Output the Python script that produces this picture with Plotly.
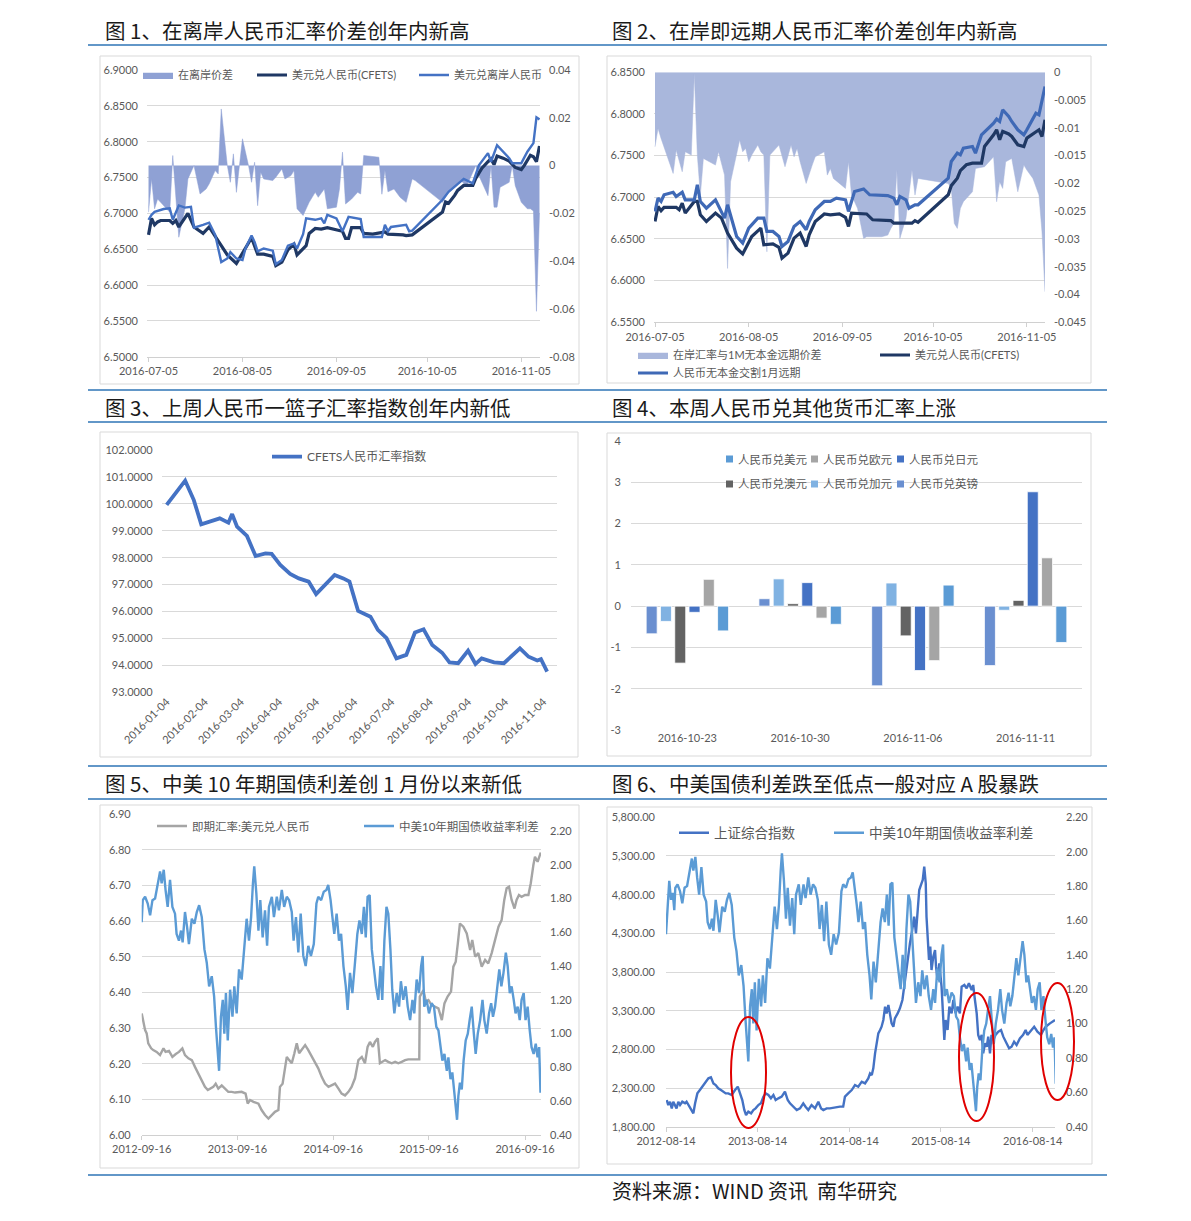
import pandas as pd
import plotly.graph_objects as go

# ---------------------------------------------------------------- data
BASE_SHORT = "2016-07-05"   # day 0 of figures 1 and 2
BASE_SPREAD = "2012-09-16"  # day 0 of the 10y spread and of USD/CNY spot
BASE_SSE = "2012-08-14"     # day 0 of the Shanghai composite

# figure 1 : (day, value)
C1_SPREAD = [(0,-0.0195),(1,-0.0056),(2,-0.0181),(3,-0.0140),(4,-0.0154),(6,-0.0181),(7,-0.0195),(8,0.0042),
             (9,-0.0140),(10,-0.0300),(12,-0.0181),(13,-0.0056),(14,-0.0028),(15,0.0),(17,-0.0119),(19,-0.0098),
             (20,-0.0077),(22,-0.0021),(23,-0.0035),(24,0.0237),(26,0.0),(27,-0.0070),(28,0.0049),(29,-0.0112),
             (30,0.0),(31,0.0112),(33,0.0),(34,-0.0070),(35,0.0014),(36,-0.0168),(37,-0.0028),(38,-0.0056),
             (41,-0.0063),(42,-0.0049),(44,-0.0014),(45,-0.0056),(47,-0.0042),(48,-0.0021),(49,-0.0181),
             (51,-0.0209),(53,-0.0154),(55,-0.0112),(56,-0.0133),(58,-0.0098),(59,-0.0181),(62,-0.0174),
             (63,-0.0098),(64,0.0056),(65,-0.0161),(67,-0.0140),(69,-0.0112),(70,-0.0119),(71,0.0042),
             (76,0.0035),(77,-0.0120),(78,-0.0020),(79,-0.0110),(81,-0.0098),(83,-0.0133),(85,-0.0154),
             (87,-0.0056),(88,-0.0063),(97,-0.0154),(99,-0.0112),(101,-0.0091),(103,-0.0063),(105,-0.0084),
             (107,-0.0028),(108,0.0),(109,-0.0042),(112,-0.0126),(113,0.0),(114,-0.0174),(115,-0.0174),
             (116,-0.0091),(119,-0.0070),(120,0.0),(121,-0.0084),(123,-0.0154),(125,-0.0181),(126,-0.0181),
             (127,-0.0190),(128,-0.0610),(129,-0.0200)]
C1_CFETS = [(0,6.670),(1,6.693),(2,6.684),(3,6.688),(4,6.690),(7,6.690),(8,6.686),(9,6.690),(10,6.681),
            (12,6.693),(13,6.700),(15,6.681),(16,6.678),(18,6.672),(20,6.681),(24,6.656),(26,6.642),(29,6.630),
            (31,6.644),(34,6.666),(36,6.643),(38,6.643),(41,6.640),(42,6.627),(44,6.632),(46,6.649),(48,6.657),
            (49,6.642),(52,6.655),(53,6.672),(55,6.679),(57,6.678),(59,6.680),(62,6.677),(64,6.675),(65,6.665),
            (66,6.665),(67,6.680),(70,6.680),(71,6.672),(74,6.671),(78,6.674),(79,6.671),(84,6.670),(85,6.669),
            (87,6.670),(97,6.702),(98,6.716),(99,6.714),(101,6.725),(102,6.732),(104,6.739),(107,6.739),
            (108,6.749),(110,6.763),(112,6.772),(113,6.776),(114,6.768),(115,6.780),(117,6.777),(119,6.773),
            (121,6.764),(123,6.761),(124,6.767),(126,6.781),(127,6.779),(128,6.772),(129,6.794)]
C1_OFFSHORE = [(0,6.691),(1,6.698),(2,6.702),(5,6.706),(7,6.707),(8,6.691),(10,6.711),(12,6.708),(14,6.709),
               (15,6.680),(18,6.684),(20,6.687),(22,6.670),(24,6.632),(26,6.637),(27,6.646),(29,6.637),
               (31,6.635),(32,6.651),(34,6.669),(35,6.660),(36,6.647),(38,6.651),(41,6.648),(42,6.629),
               (44,6.635),(46,6.655),(48,6.658),(49,6.651),(51,6.671),(52,6.693),(55,6.691),(57,6.693),
               (58,6.686),(59,6.698),(62,6.693),(64,6.675),(66,6.695),(70,6.692),(71,6.667),(77,6.667),
               (78,6.684),(79,6.675),(80,6.681),(85,6.684),(86,6.675),(87,6.676),(97,6.719),(99,6.730),
               (101,6.737),(104,6.748),(107,6.742),(109,6.767),(112,6.784),(113,6.772),(115,6.795),
               (117,6.786),(119,6.777),(120,6.770),(123,6.770),(125,6.786),(127,6.798),(128,6.834),(129,6.831)]

# figure 2 : (day, value)
C2_SPREAD = [(0,-0.0134),(1,-0.0101),(2,-0.0119),(4,-0.0149),(6,-0.0182),(7,-0.0140),(9,-0.0179),(10,-0.0143),
             (12,-0.0149),(13,-0.0002),(14,-0.0149),(15,-0.0221),(16,-0.0155),(20,-0.0167),(21,-0.0143),
             (23,-0.0185),(24,-0.0353),(25,-0.0197),(28,-0.0122),(29,-0.0143),(30,-0.0137),(31,-0.0161),
             (32,-0.0149),(34,-0.0131),(35,-0.0143),(36,-0.0149),(37,-0.0323),(38,-0.0149),(39,-0.0143),
             (41,-0.0131),(43,-0.0170),(45,-0.0131),(46,-0.0152),(47,-0.0137),(48,-0.0161),(50,-0.0200),
             (52,-0.0167),(53,-0.0152),(56,-0.0143),(57,-0.0185),(58,-0.0173),(59,-0.0191),(63,-0.0209),
             (64,-0.0161),(65,-0.0221),(67,-0.0245),(69,-0.0299),(70,-0.0296),(75,-0.0296),(77,-0.0293),
             (78,-0.0281),(79,-0.0272),(80,-0.0176),(81,-0.0299),(83,-0.0263),(85,-0.0176),(86,-0.0221),
             (87,-0.0191),(97,-0.0200),(98,-0.0209),(99,-0.0272),(100,-0.0281),(101,-0.0245),(102,-0.0233),
             (105,-0.0215),(106,-0.0173),(109,-0.0170),(112,-0.0152),(113,-0.0233),(114,-0.0197),
             (115,-0.0209),(116,-0.0161),(118,-0.0155),(119,-0.0185),(120,-0.0215),(122,-0.0167),
             (123,-0.0176),(125,-0.0191),(127,-0.0221),(128,-0.0287),(129,-0.0395)]
C2_CFETS = [(0,6.671),(1,6.689),(2,6.684),(3,6.688),(7,6.688),(8,6.685),(9,6.693),(10,6.681),(13,6.695),
            (14,6.695),(15,6.679),(17,6.671),(20,6.681),(22,6.675),(24,6.657),(27,6.639),(29,6.632),(32,6.653),
            (35,6.663),(36,6.643),(39,6.644),(41,6.640),(42,6.627),(44,6.633),(46,6.651),(48,6.657),(50,6.641),
            (51,6.655),(53,6.671),(56,6.680),(58,6.679),(61,6.680),(63,6.676),(64,6.665),(65,6.681),(70,6.680),
            (72,6.673),(78,6.672),(79,6.669),(85,6.669),(86,6.672),(87,6.670),(97,6.703),(98,6.714),(100,6.723),
            (101,6.732),(103,6.739),(105,6.741),(108,6.741),(109,6.761),(112,6.775),(113,6.781),(114,6.769),
            (115,6.779),(117,6.776),(118,6.773),(120,6.763),(122,6.761),(123,6.771),(127,6.781),(128,6.773),
            (129,6.793)]
C2_NDF = [(0,6.683),(1,6.699),(2,6.695),(3,6.703),(6,6.706),(7,6.701),(9,6.706),(10,6.697),(13,6.697),
          (14,6.715),(15,6.695),(17,6.687),(20,6.697),(23,6.675),(24,6.691),(27,6.653),(29,6.645),(31,6.663),
          (34,6.675),(36,6.675),(37,6.659),(39,6.659),(41,6.653),(42,6.641),(44,6.647),(46,6.665),(48,6.671),
          (50,6.661),(51,6.671),(53,6.685),(56,6.695),(58,6.695),(60,6.699),(63,6.697),(64,6.683),(66,6.707),
          (69,6.710),(71,6.703),(77,6.702),(79,6.699),(80,6.691),(81,6.701),(83,6.697),(84,6.687),(86,6.691),
          (87,6.691),(97,6.723),(98,6.743),(100,6.753),(101,6.751),(102,6.759),(105,6.761),(106,6.753),
          (108,6.775),(112,6.789),(113,6.794),(114,6.791),(115,6.805),(117,6.797),(118,6.791),(120,6.781),
          (122,6.775),(123,6.781),(126,6.801),(127,6.799),(129,6.833)]

# figure 3 : CFETS RMB index
C3_INDEX = [("2016-01-04",99.96),("2016-01-19",100.86),("2016-01-26",100.14),("2016-02-01",99.24),
            ("2016-02-16",99.46),("2016-02-23",99.30),("2016-02-26",99.62),("2016-03-01",99.15),
            ("2016-03-09",98.81),("2016-03-16",98.06),("2016-03-24",98.16),("2016-03-29",98.14),
            ("2016-04-05",97.73),("2016-04-13",97.40),("2016-04-20",97.23),("2016-04-28",97.11),
            ("2016-05-04",96.65),("2016-05-19",97.36),("2016-05-26",97.23),("2016-05-31",97.11),
            ("2016-06-07",96.02),("2016-06-17",95.81),("2016-06-23",95.32),("2016-06-30",95.01),
            ("2016-07-08",94.26),("2016-07-16",94.39),("2016-07-23",95.22),("2016-07-30",95.34),
            ("2016-08-06",94.76),("2016-08-14",94.47),("2016-08-20",94.11),("2016-08-27",94.08),
            ("2016-09-04",94.55),("2016-09-10",94.05),("2016-09-15",94.26),("2016-09-25",94.11),
            ("2016-10-03",94.08),("2016-10-16",94.63),("2016-10-23",94.32),("2016-10-30",94.18),
            ("2016-11-02",94.23),("2016-11-07",93.77)]

# figure 4 : weekly change (%)
C4_CATEGORIES = ["2016-10-23", "2016-10-30", "2016-11-06", "2016-11-11"]
C4_GBP = [-0.67, 0.18, -1.93, -1.44]
C4_CAD = [-0.37, 0.66, 0.56, -0.10]
C4_AUD = [-1.38, 0.06, -0.72, 0.14]
C4_JPY = [-0.15, 0.57, -1.56, 2.77]
C4_EUR = [0.65, -0.29, -1.32, 1.17]
C4_USD = [-0.60, -0.44, 0.51, -0.88]

# figures 5 and 6 : (day from BASE_SPREAD, value)
SPREAD_10Y = [(-33,1.52),(-26,1.69),(-20,1.83),(-13,1.72),(-6,1.76),(0,1.66),(4,1.79),(13,1.81),(23,1.77),
              (32,1.70),(41,1.79),(51,1.80),(61,1.89),(70,1.96),(76,1.89),(84,1.97),(91,1.85),(99,1.75),
              (108,1.91),(117,1.75),(127,1.71),(133,1.59),(142,1.55),(150,1.61),(156,1.54),(165,1.72),
              (173,1.63),(180,1.53),(191,1.68),(201,1.65),(210,1.72),(219,1.76),(229,1.69),(239,1.50),
              (248,1.42),(257,1.28),(267,1.34),(276,1.22),(283,1.04),(290,0.88),(295,0.78),(302,1.10),
              (309,1.20),(315,1.00),(321,1.24),(328,0.96),(337,1.26),(346,1.10),(353,1.28),(362,1.12),
              (371,1.38),(381,1.32),(391,1.52),(400,1.68),(409,1.55),(417,1.69),(424,1.89),(429,1.99),
              (437,1.83),(445,1.61),(452,1.79),(461,1.57),(470,1.73),(478,1.52),(485,1.75),(496,1.81),
              (504,1.69),(515,1.81),(523,1.73),(534,1.85),(543,1.75),(553,1.81),(562,1.79),(572,1.72),
              (579,1.55),(588,1.69),(597,1.48),(606,1.71),(616,1.46),(625,1.40),(635,1.52),(645,1.46),
              (656,1.53),(666,1.77),(673,1.81),(684,1.79),(694,1.84),(704,1.85),(711,1.88),(720,1.79),
              (727,1.69),(734,1.59),(743,1.71),(752,1.55),(760,1.59),(769,1.40),(778,1.28),(785,1.14),
              (794,1.36),(803,1.24),(813,1.42),(822,1.59),(830,1.67),(839,1.59),(847,1.75),(854,1.57),
              (861,1.81),(869,1.82),(877,1.50),(886,1.38),(893,1.28),(902,1.20),(910,1.40),(917,1.20),
              (925,1.55),(933,1.75),(940,1.71),(948,1.50),(955,1.26),(963,1.12),(972,1.24),(981,1.16),
              (988,1.31),(997,1.20),(1006,1.28),(1014,1.16),(1023,1.08),(1032,1.20),(1039,1.12),(1048,1.32),
              (1057,1.24),(1065,1.40),(1071,1.46),(1077,1.16),(1086,1.20),(1095,1.12),(1105,1.18),(1114,1.16),
              (1123,1.04),(1131,1.02),(1138,0.92),(1146,0.84),(1154,0.88),(1163,0.78),(1169,0.86),(1177,0.73),
              (1184,0.77),(1191,0.65),(1197,0.57),(1202,0.49),(1207,0.63),(1213,0.71),(1220,0.67),(1227,0.84),
              (1235,0.96),(1243,1.00),(1250,1.08),(1258,1.16),(1266,1.00),(1273,0.88),(1281,1.00),(1290,1.08),
              (1299,1.20),(1306,1.08),(1315,1.00),(1324,1.12),(1332,1.18),(1339,1.10),(1347,1.16),(1356,1.28),
              (1363,1.38),(1371,1.28),(1379,1.36),(1388,1.48),(1395,1.40),(1403,1.24),(1410,1.28),(1418,1.20),
              (1425,1.12),(1433,1.16),(1441,1.08),(1448,1.20),(1456,1.24),(1463,1.08),(1471,1.16),(1479,1.02),
              (1486,0.92),(1494,0.88),(1502,0.94),(1509,0.86),(1515,0.92),(1520,0.65)]
USDCNY_SPOT = [(0,6.341),(6,6.317),(13,6.294),(19,6.285),(25,6.257),(36,6.243),(44,6.238),(57,6.233),(70,6.224),
               (83,6.243),(91,6.233),(104,6.236),(117,6.219),(130,6.227),(142,6.233),(155,6.243),(165,6.224),
               (178,6.215),(191,6.210),(203,6.191),(216,6.173),(229,6.154),(241,6.135),(252,6.126),(260,6.130),
               (273,6.135),(282,6.144),(292,6.130),(305,6.139),(318,6.130),(330,6.121),(343,6.121),(356,6.119),
               (381,6.121),(396,6.116),(404,6.088),(413,6.098),(426,6.093),(445,6.088),(457,6.070),(470,6.056),
               (483,6.046),(496,6.056),(508,6.065),(521,6.070),(527,6.135),(537,6.144),(546,6.182),(553,6.219),
               (562,6.210),(572,6.201),(582,6.229),(591,6.257),(600,6.229),(610,6.238),(623,6.252),(635,6.238),
               (648,6.219),(661,6.201),(673,6.187),(686,6.163),(699,6.144),(712,6.135),(724,6.139),(737,6.144),
               (750,6.130),(762,6.116),(775,6.111),(788,6.121),(800,6.135),(813,6.159),(826,6.210),(839,6.219),
               (851,6.201),(861,6.247),(870,6.261),(881,6.247),(889,6.261),(900,6.271),(908,6.201),(917,6.205),
               (928,6.210),(940,6.205),(953,6.201),(966,6.205),(978,6.201),(991,6.205),(1004,6.210),(1016,6.212),
               (1042,6.212),(1058,6.212),(1060,6.388),(1074,6.406),(1083,6.374),(1093,6.378),(1105,6.364),
               (1118,6.360),(1131,6.355),(1144,6.322),(1154,6.369),(1166,6.388),(1179,6.402),(1188,6.472),
               (1197,6.486),(1205,6.537),(1213,6.593),(1226,6.584),(1239,6.565),(1252,6.519),(1260,6.547),
               (1271,6.500),(1283,6.510),(1296,6.472),(1309,6.491),(1321,6.481),(1334,6.510),(1347,6.547),
               (1360,6.584),(1372,6.603),(1382,6.659),(1391,6.692),(1400,6.696),(1410,6.659),(1421,6.635),
               (1429,6.659),(1438,6.673),(1448,6.668),(1461,6.673),(1474,6.673),(1483,6.706),(1493,6.757),
               (1499,6.780),(1509,6.766),(1516,6.780),(1521,6.792)]
# figure 6 : (day from BASE_SSE, index)
SSE = [(3,2145),(9,2080),(16,2123),(23,2037),(29,2123),(36,2080),(42,2037),(49,2123),(56,2080),(65,2123),(76,2102),
       (82,2123),(89,2080),(100,2016),(109,1973),(116,2102),(125,2231),(135,2274),(145,2317),(155,2360),(169,2425),
       (179,2438),(189,2360),(198,2339),(208,2296),(219,2274),(228,2253),(238,2231),(248,2231),(262,2210),
       (275,2274),(286,2317),(295,2231),(304,2145),(312,2016),(319,1951),(328,1994),(339,1973),(348,2016),
       (357,2037),(368,2080),(378,2102),(388,2188),(397,2231),(408,2210),(418,2167),(428,2210),(437,2145),
       (448,2167),(461,2188),(474,2253),(485,2145),(494,2102),(507,2059),(521,2016),(534,2037),(547,2102),
       (556,2059),(567,2016),(580,2080),(594,2037),(607,2123),(618,2037),(627,2016),(640,2037),(653,2037),
       (673,2050),(693,2059),(706,2059),(713,2188),(726,2231),(740,2274),(753,2339),(766,2317),(780,2382),
       (793,2360),(806,2425),(813,2490),(820,2468),(826,2554),(833,2748),(839,2878),(846,3007),(853,3050),
       (859,3093),(866,3179),(873,3352),(879,3265),(886,3373),(892,3265),(899,3136),(906,3093),(912,3201),
       (923,3265),(932,3330),(942,3438),(952,3697),(963,3955),(972,4171),(981,4343),(989,4516),(996,4300),
       (1003,4602),(1009,4860),(1016,4925),(1023,4990),(1029,5162),(1035,4947),(1038,4516),(1042,4214),
       (1048,3955),(1053,4128),(1058,3826),(1065,3998),(1072,4085),(1076,3869),(1082,3697),(1089,3912),
       (1098,3610),(1105,3179),(1109,2921),(1114,3179),(1122,3050),(1129,3352),(1138,3265),(1145,3438),
       (1154,3265),(1162,3352),(1171,3265),(1178,3610),(1189,3632),(1198,3589),(1207,3654),(1218,3567),
       (1224,3632),(1231,3438),(1238,3265),(1244,2987),(1251,2921),(1258,2987),(1264,2748),(1271,2878),
       (1278,2834),(1284,2964),(1291,2748),(1297,2987),(1304,2921),(1313,2987),(1324,3028),(1335,3050),
       (1344,2964),(1357,2878),(1367,2813),(1377,2834),(1387,2899),(1397,2856),(1410,2942),(1423,2987),
       (1433,3050),(1440,2987),(1454,3050),(1467,3093),(1480,3028),(1494,2987),(1504,3050),(1513,3093),
       (1530,3136),(1543,3158),(1550,3179)]

# tick labels
C1_X_TICKS = ["2016-07-05", "2016-08-05", "2016-09-05", "2016-10-05", "2016-11-05"]
C1_RIGHT_VALS = [-0.08, -0.06, -0.04, -0.02, 0, 0.02, 0.04]
C1_RIGHT_TEXT = ["-0.08", "-0.06", "-0.04", "-0.02", "0", "0.02", "0.04"]
C2_RIGHT_VALS = [-0.045, -0.04, -0.035, -0.03, -0.025, -0.02, -0.015, -0.01, -0.005, 0]
C2_RIGHT_TEXT = ["-0.045", "-0.04", "-0.035", "-0.03", "-0.025", "-0.02", "-0.015", "-0.01", "-0.005", "0"]
C3_X_TICKS = ["2016-01-04", "2016-02-04", "2016-03-04", "2016-04-04", "2016-05-04", "2016-06-04",
              "2016-07-04", "2016-08-04", "2016-09-04", "2016-10-04", "2016-11-04"]
C4_Y_VALS = [-3, -2, -1, 0, 1, 2, 3, 4]
C4_Y_TEXT = ["-3", "-2", "-1", "0", "1", "2", "3", "4"]
C5_X_TICKS = ["2012-09-16", "2013-09-16", "2014-09-16", "2015-09-16", "2016-09-16"]
C5_RIGHT_VALS = [0.4, 0.6, 0.8, 1.0, 1.2, 1.4, 1.6, 1.8, 2.0, 2.2]
C6_X_TICKS = ["2012-08-14", "2013-08-14", "2014-08-14", "2015-08-14", "2016-08-14"]

TITLES = [("图 1、在离岸人民币汇率价差创年内新高", 103, 30, 20.5),
          ("图 2、在岸即远期人民币汇率价差创年内新高", 610, 30, 20.5),
          ("图 3、上周人民币一篮子汇率指数创年内新低", 103, 407, 20.5),
          ("图 4、本周人民币兑其他货币汇率上涨", 610, 407, 20.5),
          ("图 5、中美 10 年期国债利差创 1 月份以来新低", 103, 783, 20.5),
          ("图 6、中美国债利差跌至低点一般对应 A 股暴跌", 610, 783, 20.5),
          ("资料来源：WIND 资讯  南华研究", 610, 1190, 20)]

# ---------------------------------------------------------------- helpers
OFF = 8
FW, FH = 1191 - 2 * OFF, 1221 - 2 * OFF
FONT = "Lato, 'Noto Sans CJK SC', sans-serif"
CJK = "'Noto Sans CJK SC', sans-serif"
TICK = "#595959"
GRID = "#D9D9D9"
AXIS = "#D0D0D0"


def px(x):
    return (x - OFF) / FW


def py(y):
    return 1 - (y - OFF) / FH


def unzip(pairs):
    return [p[0] for p in pairs], [p[1] for p in pairs]


def to_dates(base, days):
    b = pd.Timestamp(base)
    return [(b + pd.Timedelta(days=int(d))).strftime("%Y-%m-%d") for d in days]


def tfont(size=11):
    return dict(family=FONT, size=size, color=TICK)


def xdate(l, r, anchor, rng, tickvals, line=True, angle=None, size=11):
    ax = dict(domain=[px(l), px(r)], anchor=anchor, type="date", range=rng, tickmode="array",
              tickvals=tickvals, tickformat="%Y-%m-%d", showgrid=False, zeroline=False, automargin=False,
              showline=line, linecolor=AXIS, linewidth=1, ticks="outside" if line else "",
              ticklen=4, tickcolor=AXIS, tickfont=tfont(size))
    if angle is not None:
        ax["tickangle"] = angle
    return ax


def yax(side, rng, grid, fmt=None, dtick=None, vals=None, text=None, size=11, standoff=8, **kw):
    ax = dict(side=side, range=rng, showgrid=grid, gridcolor=GRID, gridwidth=1, zeroline=False,
              showline=False, ticks="", tickfont=tfont(size), ticklabelstandoff=standoff, automargin=False)
    if fmt:
        ax["tickformat"] = fmt
    if dtick is not None:
        ax["dtick"] = dtick
        ax["tick0"] = rng[0]
    if vals is not None:
        ax["tickmode"] = "array"
        ax["tickvals"] = vals
        if text is not None:
            ax["ticktext"] = text
    ax.update(kw)
    return ax


def legend_at(x_text, y_mid, size):
    return dict(x=px(x_text - 40), y=py(y_mid), xanchor="left", yanchor="middle", orientation="h",
                bgcolor="rgba(0,0,0,0)", borderwidth=0, font=dict(family=FONT, size=size, color=TICK),
                itemclick=False, itemdoubleclick=False)


fig = go.Figure()

# ---------------------------------------------------------------- figure 1
AREA1 = "#8FA1D4"
NAVY = "#1F3864"
BLUE = "#4472C4"
d, v = unzip(C1_SPREAD)
fig.add_trace(go.Scatter(x=to_dates(BASE_SHORT, d), y=v, xaxis="x", yaxis="y", mode="lines",
                         line=dict(width=0.5, color=AREA1), fill="tozeroy", fillcolor=AREA1,
                         name="在离岸价差", legend="legend"))
d, v = unzip(C1_CFETS)
fig.add_trace(go.Scatter(x=to_dates(BASE_SHORT, d), y=v, xaxis="x", yaxis="y2", mode="lines",
                         line=dict(width=3.2, color=NAVY), name="美元兑人民币(CFETS)", legend="legend2"))
d, v = unzip(C1_OFFSHORE)
fig.add_trace(go.Scatter(x=to_dates(BASE_SHORT, d), y=v, xaxis="x", yaxis="y2", mode="lines",
                         line=dict(width=2.4, color=BLUE), name="美元兑离岸人民币", legend="legend3"))

# ---------------------------------------------------------------- figure 2
AREA2 = "#A9B7DC"
d, v = unzip(C2_SPREAD)
fig.add_trace(go.Scatter(x=to_dates(BASE_SHORT, d), y=v, xaxis="x2", yaxis="y3", mode="lines",
                         line=dict(width=0.5, color=AREA2), fill="tozeroy", fillcolor=AREA2,
                         name="在岸汇率与1M无本金远期价差", legend="legend4"))
d, v = unzip(C2_CFETS)
fig.add_trace(go.Scatter(x=to_dates(BASE_SHORT, d), y=v, xaxis="x2", yaxis="y4", mode="lines",
                         line=dict(width=3.2, color=NAVY), name="美元兑人民币(CFETS)", legend="legend5"))
d, v = unzip(C2_NDF)
fig.add_trace(go.Scatter(x=to_dates(BASE_SHORT, d), y=v, xaxis="x2", yaxis="y4", mode="lines",
                         line=dict(width=3.2, color="#3F69B6"), name="人民币无本金交割1月远期", legend="legend6"))

# ---------------------------------------------------------------- figure 3
d, v = unzip(C3_INDEX)
fig.add_trace(go.Scatter(x=d, y=v, xaxis="x3", yaxis="y5", mode="lines",
                         line=dict(width=3.8, color=BLUE), name="CFETS人民币汇率指数", legend="legend7"))

# ---------------------------------------------------------------- figure 4
# drawn left-to-right in this order inside each date group
bars = [("人民币兑英镑", C4_GBP, "#6A8FD0"),
        ("人民币兑加元", C4_CAD, "#80B2E2"),
        ("人民币兑澳元", C4_AUD, "#636363"),
        ("人民币兑日元", C4_JPY, "#4472C4"),
        ("人民币兑欧元", C4_EUR, "#A5A5A5"),
        ("人民币兑美元", C4_USD, "#5B9BD5")]
BAR_COLOR = {n: c for n, _, c in bars}
for name, vals, col in bars:
    fig.add_trace(go.Bar(x=C4_CATEGORIES, y=vals, xaxis="x4", yaxis="y6", name=name, showlegend=False,
                         marker=dict(color=col, line=dict(color="white", width=0.8))))
# compact two-row key of figure 4 (swatch + text), laid out as in the original
C4_KEY = [("人民币兑美元", 736, 459), ("人民币兑欧元", 821, 459), ("人民币兑日元", 907, 459),
          ("人民币兑澳元", 736, 484), ("人民币兑加元", 821, 484), ("人民币兑英镑", 907, 484)]

# ---------------------------------------------------------------- figure 5
d, v = unzip(USDCNY_SPOT)
fig.add_trace(go.Scatter(x=to_dates(BASE_SPREAD, d), y=v, xaxis="x5", yaxis="y7", mode="lines",
                         line=dict(width=2.4, color="#A5A5A5"), name="即期汇率:美元兑人民币", legend="legend14"))
d, v = unzip(SPREAD_10Y)
fig.add_trace(go.Scatter(x=to_dates(BASE_SPREAD, d), y=v, xaxis="x5", yaxis="y8", mode="lines",
                         line=dict(width=2.4, color="#5B9BD5"), name="中美10年期国债收益率利差", legend="legend15"))

# ---------------------------------------------------------------- figure 6
d, v = unzip(SSE)
fig.add_trace(go.Scatter(x=to_dates(BASE_SSE, d), y=v, xaxis="x6", yaxis="y9", mode="lines",
                         line=dict(width=2.4, color="#4472C4"), name="上证综合指数", legend="legend16"))
d, v = unzip(SPREAD_10Y)
fig.add_trace(go.Scatter(x=to_dates(BASE_SPREAD, d), y=v, xaxis="x6", yaxis="y10", mode="lines",
                         line=dict(width=2.4, color="#5B9BD5"), name="中美10年期国债收益率利差", legend="legend17"))

# ---------------------------------------------------------------- layout
layout = dict(
    width=FW, height=FH, margin=dict(l=0, r=0, t=0, b=0, autoexpand=False), paper_bgcolor="white",
    plot_bgcolor="rgba(0,0,0,0)", showlegend=True, barmode="group", bargap=0.24,
    bargroupgap=0.23, hovermode=False, font=dict(family=FONT, color=TICK),
    # fig 1
    xaxis=xdate(147, 540, "y", ["2016-07-04 12:00", "2016-11-11 04:00"], C1_X_TICKS),
    yaxis=yax("right", [-0.08, 0.04], False, vals=C1_RIGHT_VALS, text=C1_RIGHT_TEXT,
              domain=[py(356.7), py(70)], anchor="x"),
    yaxis2=yax("left", [6.5, 6.9], True, fmt=".4f", dtick=0.05, overlaying="y", anchor="x"),
    # fig 2
    xaxis2=xdate(654, 1045, "y3", ["2016-07-04 16:00", "2016-11-11 00:00"], C1_X_TICKS),
    yaxis3=yax("right", [-0.045, 0], False, vals=C2_RIGHT_VALS, text=C2_RIGHT_TEXT,
               domain=[py(322.3), py(72.3)], anchor="x2"),
    yaxis4=yax("left", [6.55, 6.85], True, fmt=".4f", dtick=0.05, overlaying="y3", anchor="x2"),
    # fig 3
    xaxis3=xdate(161.7, 556.7, "y5", ["2015-12-31", "2016-11-14 18:00"], C3_X_TICKS, line=False, angle=-45),
    yaxis5=yax("left", [93, 102], True, fmt=".4f", dtick=1, domain=[py(692.3), py(450)], anchor="x3"),
    # fig 4
    xaxis4=dict(domain=[px(631), px(1082)], anchor="y6", type="category", showgrid=False, zeroline=False,
                showline=False, ticks="", tickfont=tfont(11), automargin=False),
    yaxis6=yax("left", [-3, 4], True, vals=C4_Y_VALS, text=C4_Y_TEXT, standoff=9,
               domain=[py(730), py(441)], anchor="x4"),
    # fig 5
    xaxis5=xdate(141.7, 541, "y7", ["2012-09-16", "2016-11-16"], C5_X_TICKS),
    yaxis7=yax("left", [6.0, 6.9], True, fmt=".2f", dtick=0.1, domain=[py(1135), py(814)], anchor="x5", standoff=10),
    yaxis8=yax("right", [0.4, 2.3], False, fmt=".2f", vals=C5_RIGHT_VALS, overlaying="y7", anchor="x5"),
    # fig 6
    xaxis6=xdate(666, 1055, "y9", ["2012-08-14", "2016-11-11"], C6_X_TICKS),
    yaxis9=yax("left", [1800, 5800], True, fmt=",.2f", dtick=500, domain=[py(1126.7), py(817.3)],
               anchor="x6", standoff=10),
    yaxis10=yax("right", [0.4, 2.2], False, fmt=".2f", dtick=0.2, overlaying="y9", anchor="x6", standoff=10),
    # legends (one per entry, placed like the original)
    legend=legend_at(178, 75, 11), legend2=legend_at(292, 75, 11), legend3=legend_at(454, 75, 11),
    legend4=legend_at(673, 355, 11), legend5=legend_at(915, 355, 11), legend6=legend_at(673, 373, 11),
    legend7=legend_at(307, 456.7, 12),
    legend14=legend_at(192, 826, 11.5), legend15=legend_at(399, 826, 11.5),
    legend16=legend_at(714, 833, 13.5), legend17=legend_at(869, 833, 13.5),
)
fig.update_layout(**layout)

shapes = []
for yy in [45, 390, 422, 766, 799, 1175]:
    shapes.append(dict(type="line", xref="paper", yref="paper", x0=px(88), x1=px(1107), y0=py(yy), y1=py(yy),
                       line=dict(color="#2E75B6", width=1.5)))
for (x0, y0, x1, y1) in [(100, 56, 579, 384), (607, 56, 1091, 383), (100, 432, 578, 757),
                         (607, 433, 1091, 756), (100, 805, 579, 1168), (607, 807, 1092, 1164)]:
    shapes.append(dict(type="rect", xref="paper", yref="paper", x0=px(x0), x1=px(x1), y0=py(y1), y1=py(y0),
                       line=dict(color="#D9D9D9", width=1), layer="below"))
for (x0, y0, x1, y1) in [(731, 1017, 766, 1128), (959, 993, 994, 1121), (1041, 983, 1074, 1100)]:
    shapes.append(dict(type="circle", xref="paper", yref="paper", x0=px(x0), x1=px(x1), y0=py(y1), y1=py(y0),
                       line=dict(color="#E00000", width=2), layer="above"))
for name, tx, ty in C4_KEY:
    shapes.append(dict(type="rect", xref="paper", yref="paper", x0=px(tx - 10), x1=px(tx - 3),
                       y0=py(ty + 3.5), y1=py(ty - 3.5), line=dict(width=0), fillcolor=BAR_COLOR[name]))
fig.update_layout(shapes=shapes)

annotations = [dict(text=t, x=px(x), y=py(y), xref="paper", yref="paper", xanchor="left",
                    yanchor="middle", showarrow=False,
                    font=dict(family=CJK, size=s, color="#1A1A1A")) for t, x, y, s in TITLES]
for name, tx, ty in C4_KEY:
    annotations.append(dict(text=name, x=px(tx), y=py(ty), xref="paper", yref="paper", xanchor="left",
                            yanchor="middle", showarrow=False, font=dict(family=FONT, size=11.5, color=TICK)))
fig.update_layout(annotations=annotations)

fig.write_html("out.html")
